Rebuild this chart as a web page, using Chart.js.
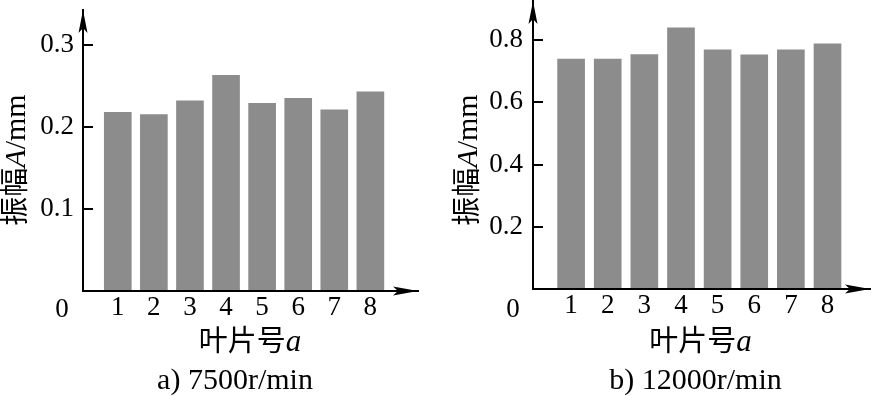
<!DOCTYPE html>
<html><head><meta charset="utf-8">
<script src="https://cdn.jsdelivr.net/npm/chart.js@4/dist/chart.umd.min.js"></script>
<style>
body{margin:0;background:#fff;width:875px;height:396px;overflow:hidden;position:relative}
canvas{position:absolute;top:0}
</style></head>
<body>
<canvas id="c1" width="437" height="396" style="left:0"></canvas>
<canvas id="c2" width="438" height="396" style="left:437px"></canvas>
<script>
// ---- data ----
const bladeNumbers = [1, 2, 3, 4, 5, 6, 7, 8];
const amp7500  = [0.218, 0.215, 0.232, 0.263, 0.229, 0.235, 0.221, 0.243];
const amp12000 = [0.739, 0.739, 0.754, 0.840, 0.769, 0.753, 0.769, 0.788];
const yTicks7500  = [0.1, 0.2, 0.3];
const yTicks12000 = [0.2, 0.4, 0.6, 0.8];
const originLabel = '0';
const xTitleCJK = '叶片号';
const xTitleVar = 'a';
const yTitleCJK = '振幅';
const yTitleVar = 'A';
const yTitleUnit = '/mm';
const caption7500 = 'a) 7500r/min';
const caption12000 = 'b) 12000r/min';

const SERIF = '"Liberation Serif", "Times New Roman", serif';
const CJK = '"Noto Sans CJK SC", sans-serif';
const BAR = '#8c8c8c';

function drawMixed(ctx, parts, cx, baseY) {
  let total = 0;
  parts.forEach(p => { ctx.font = p.font; p.w = ctx.measureText(p.t).width; total += p.w; });
  let x = cx - total / 2;
  ctx.textAlign = 'left';
  ctx.textBaseline = 'alphabetic';
  parts.forEach(p => { ctx.font = p.font; ctx.fillText(p.t, x, baseY); x += p.w; });
}

const decor = {
  id: 'decor',
  afterDraw(chart, args, o) {
    const ctx = chart.ctx, a = chart.chartArea;
    const ys = chart.scales.y;
    ctx.save();
    ctx.fillStyle = '#000';
    ctx.strokeStyle = '#000';
    ctx.lineWidth = 2;
    // inward tick marks
    ys.ticks.forEach(t => {
      const py = Math.round(ys.getPixelForValue(t.value));
      ctx.beginPath(); ctx.moveTo(a.left, py); ctx.lineTo(a.left + 10, py); ctx.stroke();
    });
    // axis extensions to arrow tips
    ctx.beginPath(); ctx.moveTo(a.left, a.bottom); ctx.lineTo(a.left, a.top + 4); ctx.stroke();
    ctx.beginPath(); ctx.moveTo(a.left, a.bottom); ctx.lineTo(a.right - 4, a.bottom); ctx.stroke();
    // up arrow
    ctx.beginPath();
    ctx.moveTo(a.left, a.top);
    ctx.lineTo(a.left - 4.5, a.top + 23);
    ctx.lineTo(a.left, a.top + 18);
    ctx.lineTo(a.left + 4.5, a.top + 23);
    ctx.closePath(); ctx.fill();
    // right arrow
    ctx.beginPath();
    ctx.moveTo(a.right, a.bottom);
    ctx.lineTo(a.right - 25, a.bottom - 4.5);
    ctx.lineTo(a.right - 20, a.bottom);
    ctx.lineTo(a.right - 25, a.bottom + 4.5);
    ctx.closePath(); ctx.fill();
    // origin label
    ctx.font = '27px ' + SERIF;
    ctx.textAlign = 'center'; ctx.textBaseline = 'alphabetic';
    ctx.fillText(originLabel, o.originX, 317);
    // x title
    drawMixed(ctx, [
      {t: xTitleCJK, font: '29px ' + CJK},
      {t: xTitleVar, font: 'italic 31px ' + SERIF}
    ], o.xTitleX, 351);
    // caption
    drawMixed(ctx, [{t: o.caption, font: '30px ' + SERIF}], o.captionX, 389);
    // y title (rotated)
    ctx.translate(o.yTitleX, 160);
    ctx.rotate(-Math.PI / 2);
    drawMixed(ctx, [
      {t: yTitleCJK, font: '29px ' + CJK},
      {t: yTitleVar, font: 'italic 30px ' + SERIF},
      {t: yTitleUnit, font: '30px ' + SERIF}
    ], 0, 0);
    ctx.restore();
  }
};

function makeChart(id, values, yTicks, g) {
  return new Chart(document.getElementById(id), {
    type: 'bar',
    data: {
      datasets: [{
        data: bladeNumbers.map((x, i) => ({x: x, y: values[i]})),
        backgroundColor: BAR,
        borderWidth: 0,
        barThickness: 27
      }]
    },
    options: {
      responsive: false,
      animation: false,
      layout: {padding: {left: 0, top: g.padTop, right: g.padRight, bottom: 0}},
      plugins: {
        legend: {display: false},
        tooltip: {enabled: false},
        decor: g.decor
      },
      scales: {
        x: {
          type: 'linear',
          position: 'bottom',
          offset: false,
          min: g.xMin, max: g.xMax,
          afterFit: s => { s.height = g.xAxisH; s.paddingLeft = 0; s.paddingRight = 0; },
          afterBuildTicks: s => { s.ticks = bladeNumbers.map(v => ({value: v})); },
          grid: {display: true, drawOnChartArea: false, drawTicks: false},
          border: {display: true, color: '#000', width: 2},
          ticks: {color: '#000', padding: g.xPad, font: {family: SERIF, size: 27}, callback: v => String(v), maxRotation: 0, autoSkip: false}
        },
        y: {
          min: 0, max: g.yMax,
          afterFit: s => { s.width = g.yAxisW; s.paddingTop = 0; s.paddingBottom = 0; },
          afterBuildTicks: s => { s.ticks = yTicks.map(v => ({value: v})); },
          grid: {display: true, drawOnChartArea: false, drawTicks: false},
          border: {display: true, color: '#000', width: 2},
          ticks: {color: '#000', padding: g.yPad, font: {family: SERIF, size: 27}, callback: v => v.toFixed(1)}
        }
      }
    },
    plugins: [decor]
  });
}

makeChart('c1', amp7500, yTicks7500, {
  padTop: 10, padRight: 19, xAxisH: 105, yAxisW: 83, yPad: 9, xPad: 1,
  xMin: 0.036, xMax: 9.32, yMax: (291 - 10) / 820,
  decor: {originX: 62, xTitleX: 250, captionX: 235, yTitleX: 25, caption: caption7500}
});
makeChart('c2', amp12000, yTicks12000, {
  padTop: 1, padRight: 5, xAxisH: 107, yAxisW: 96, yPad: 10, xPad: 1,
  xMin: -0.04, xMax: 9.16, yMax: (289 - 1) / 311,
  decor: {originX: 76, xTitleX: 263.5, captionX: 258.5, yTitleX: 40, caption: caption12000}
});
</script>
</body></html>
